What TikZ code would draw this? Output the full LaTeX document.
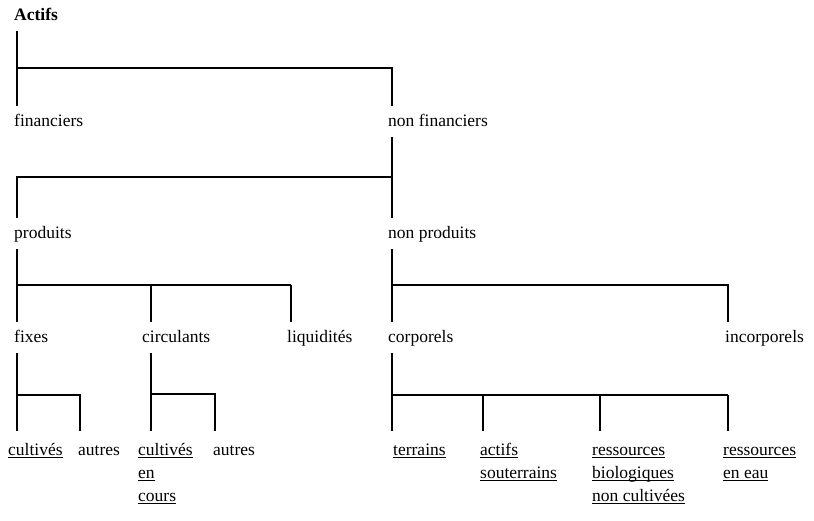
\documentclass[tikz,border=0pt]{standalone}
\usepackage{fontspec}
\setmainfont{Liberation Serif}
\usetikzlibrary{positioning}
\newcommand{\taille}{\fontsize{17.5}{23}\selectfont}
\newcommand{\souligne}[1]{\setbox0\hbox{#1}\rlap{\rule[-2.5pt]{\wd0}{0.9pt}}\box0}
\tikzset{
  lbl/.style={anchor=base west, inner sep=0pt, text height=12pt, text depth=4pt, font=\taille},
  titre/.style={lbl, font=\taille\bfseries},
  feuille/.style={anchor=north west, inner sep=0pt, align=left, font=\taille},
  barre/.style={line width=1.3pt},
  lien/.style={barre, shorten <=7pt, shorten >=8pt}
}

\begin{document}
\begin{tikzpicture}[x=1pt,y=-1pt]
  \useasboundingbox (0,0) rectangle (814,520);
  % niveaux
  \node[titre] (actifs) at (14,20) {Actifs};
  \node[lbl] (fin) at (14,126) {financiers};
  \node[lbl] (nfin) at (388,126) {non financiers};
  \node[lbl] (prod) at (14,238) {produits};
  \node[lbl] (nprod) at (388,238) {non produits};
  \node[lbl] (fixes) at (14,342) {fixes};
  \node[lbl] (circ) at (142,342) {circulants};
  \node[lbl] (liq) at (287,342) {liquidités};
  \node[lbl] (corp) at (388,342) {corporels};
  \node[lbl] (incorp) at (725,342) {incorporels};
  % feuilles
  \node[feuille] (cult1) at (8,439) {\strut\souligne{cultivés}};
  \node[feuille] (autr1) at (78,439) {\strut autres};
  \node[feuille] (cult2) at (138,439) {\strut\souligne{cultivés}\\\souligne{en}\\\souligne{cours}};
  \node[feuille] (autr2) at (213,439) {\strut autres};
  \node[feuille] (terr) at (393,439) {\strut\souligne{terrains}};
  \node[feuille] (sout) at (480,439) {\strut\souligne{actifs}\\\souligne{souterrains}};
  \node[feuille] (bio) at (592,439) {\strut\souligne{ressources}\\\souligne{biologiques}\\\souligne{non cultivées}};
  \node[feuille] (eau) at (723,439) {\strut\souligne{ressources}\\\souligne{en eau}};

  % Actifs
  \coordinate (a1) at (17,68); \coordinate (a2) at (392,68);
  \draw[lien] (actifs.south -| a1) -- (fin.north -| a1);
  \draw[lien,shorten <=0pt] (a1) -- (a2) -- (a2 |- nfin.north);
  % non financiers
  \coordinate (n1) at (392,177); \coordinate (n2) at (17,177);
  \draw[lien] (nfin.south -| n1) -- (nprod.north -| n1);
  \draw[lien,shorten <=0pt] (n1) -- (n2) -- (n2 |- prod.north);
  % produits
  \coordinate (p1) at (17,285); \coordinate (p2) at (151,285); \coordinate (p3) at (291,285);
  \draw[lien] (prod.south -| p1) -- (fixes.north -| p1);
  \draw[barre] (p1) -- (p3);
  \foreach \c/\n in {p2/circ, p3/liq}
    \draw[lien,shorten <=0pt] (\c) -- (\c |- \n.north);
  % non produits
  \coordinate (q1) at (392,285); \coordinate (q2) at (728,285);
  \draw[lien] (nprod.south -| q1) -- (corp.north -| q1);
  \draw[lien,shorten <=0pt] (q1) -- (q2) -- (q2 |- incorp.north);
  % fixes
  \coordinate (f1) at (17,395); \coordinate (f2) at (80,395);
  \draw[lien] (fixes.south -| f1) -- (cult1.north -| f1);
  \draw[lien,shorten <=0pt] (f1) -- (f2) -- (f2 |- autr1.north);
  % circulants
  \coordinate (c1) at (151,394); \coordinate (c2) at (215,394);
  \draw[lien] (circ.south -| c1) -- (cult2.north -| c1);
  \draw[lien,shorten <=0pt] (c1) -- (c2) -- (c2 |- autr2.north);
  % corporels
  \coordinate (k1) at (392,395); \coordinate (k2) at (483,395);
  \coordinate (k3) at (600,395); \coordinate (k4) at (728,395);
  \draw[lien] (corp.south -| k1) -- (terr.north -| k1);
  \draw[barre] (k1) -- (k4);
  \foreach \c/\n in {k2/sout, k3/bio, k4/eau}
    \draw[lien,shorten <=0pt] (\c) -- (\c |- \n.north);
\end{tikzpicture}
\end{document}
